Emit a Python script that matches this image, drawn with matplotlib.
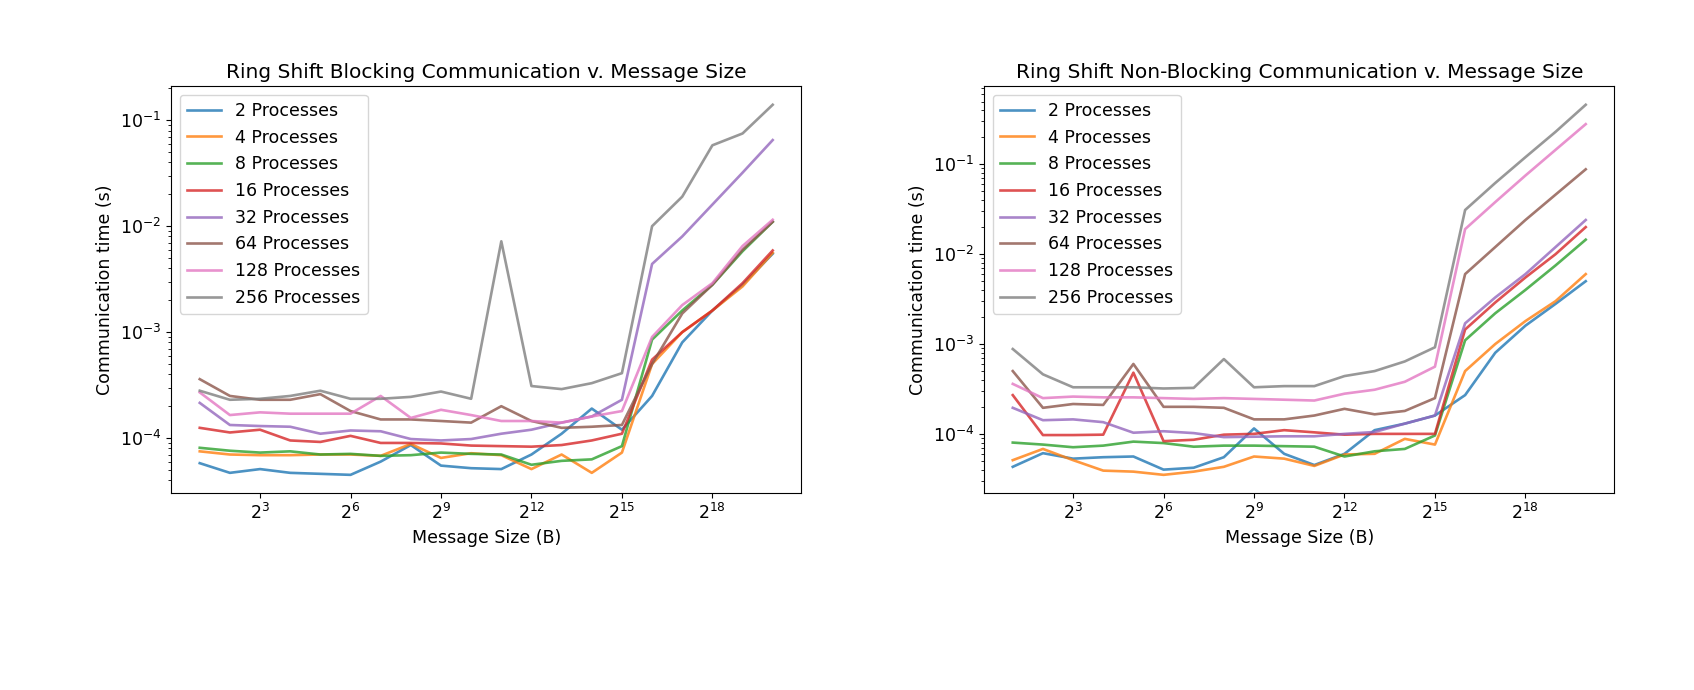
import numpy as np
from matplotlib import pyplot as plt

sizes = [2**k for k in range(1, 21)]
labels = ['2 Processes', '4 Processes', '8 Processes', '16 Processes',
          '32 Processes', '64 Processes', '128 Processes', '256 Processes']

blocking = [
    [5.8e-5,4.7e-5,5.1e-5,4.7e-5,4.6e-5,4.5e-5,6e-5,8.6e-5,5.5e-5,5.2e-5,5.1e-5,7e-5,1.1e-4,1.9e-4,1.2e-4,2.5e-4,8e-4,1.6e-3,2.8e-3,5.5e-3],
    [7.5e-5,7e-5,6.9e-5,6.9e-5,7e-5,7e-5,6.8e-5,8.8e-5,6.5e-5,7.2e-5,6.9e-5,5.1e-5,7e-5,4.7e-5,7.3e-5,5e-4,1e-3,1.6e-3,2.7e-3,5.6e-3],
    [8.1e-5,7.6e-5,7.3e-5,7.5e-5,7e-5,7.1e-5,6.8e-5,6.9e-5,7.3e-5,7.1e-5,7e-5,5.6e-5,6.1e-5,6.3e-5,8.4e-5,8.5e-4,1.6e-3,2.8e-3,5.8e-3,1.1e-2],
    [1.25e-4,1.13e-4,1.2e-4,9.5e-5,9.2e-5,1.05e-4,9e-5,9e-5,8.9e-5,8.5e-5,8.4e-5,8.3e-5,8.6e-5,9.5e-5,1.1e-4,5.5e-4,1e-3,1.6e-3,2.9e-3,5.9e-3],
    [2.15e-4,1.33e-4,1.3e-4,1.28e-4,1.1e-4,1.18e-4,1.16e-4,9.8e-5,9.5e-5,9.8e-5,1.1e-4,1.2e-4,1.4e-4,1.6e-4,2.3e-4,4.4e-3,8e-3,1.6e-2,3.2e-2,6.5e-2],
    [3.6e-4,2.5e-4,2.3e-4,2.3e-4,2.6e-4,1.8e-4,1.5e-4,1.5e-4,1.45e-4,1.4e-4,2e-4,1.45e-4,1.25e-4,1.28e-4,1.33e-4,5e-4,1.5e-3,2.8e-3,6e-3,1.1e-2],
    [2.7e-4,1.65e-4,1.75e-4,1.7e-4,1.7e-4,1.7e-4,2.5e-4,1.55e-4,1.85e-4,1.65e-4,1.45e-4,1.45e-4,1.4e-4,1.6e-4,1.8e-4,9e-4,1.8e-3,2.9e-3,6.5e-3,1.15e-2],
    [2.8e-4,2.3e-4,2.35e-4,2.5e-4,2.8e-4,2.35e-4,2.35e-4,2.45e-4,2.75e-4,2.35e-4,7.2e-3,3.1e-4,2.9e-4,3.3e-4,4.1e-4,1e-2,1.9e-2,5.8e-2,7.5e-2,1.4e-1],
]

nonblocking = [
    [4.3e-5,6.1e-5,5.3e-5,5.5e-5,5.6e-5,4e-5,4.2e-5,5.5e-5,1.15e-4,6e-5,4.5e-5,6e-5,1.1e-4,1.3e-4,1.6e-4,2.7e-4,8e-4,1.6e-3,2.8e-3,5e-3],
    [5.1e-5,6.8e-5,5.1e-5,3.9e-5,3.8e-5,3.5e-5,3.8e-5,4.3e-5,5.6e-5,5.3e-5,4.4e-5,5.9e-5,6e-5,8.8e-5,7.6e-5,5e-4,1e-3,1.8e-3,3e-3,6e-3],
    [8e-5,7.6e-5,7.1e-5,7.4e-5,8.2e-5,7.9e-5,7.2e-5,7.4e-5,7.4e-5,7.3e-5,7.2e-5,5.6e-5,6.4e-5,6.8e-5,9.6e-5,1.1e-3,2.2e-3,4e-3,7.5e-3,1.45e-2],
    [2.7e-4,9.7e-5,9.7e-5,9.8e-5,4.8e-4,8.3e-5,8.6e-5,9.8e-5,1e-4,1.1e-4,1.04e-4,9.8e-5,1e-4,1e-4,1e-4,1.45e-3,2.9e-3,5.5e-3,1e-2,2e-2],
    [1.95e-4,1.42e-4,1.45e-4,1.35e-4,1.03e-4,1.07e-4,1.02e-4,9.2e-5,9.3e-5,9.4e-5,9.4e-5,1e-4,1.05e-4,1.3e-4,1.6e-4,1.7e-3,3.3e-3,6e-3,1.2e-2,2.4e-2],
    [5e-4,1.95e-4,2.15e-4,2.1e-4,6e-4,2e-4,2e-4,1.95e-4,1.45e-4,1.45e-4,1.6e-4,1.9e-4,1.65e-4,1.8e-4,2.5e-4,6e-3,1.2e-2,2.4e-2,4.6e-2,8.8e-2],
    [3.6e-4,2.5e-4,2.6e-4,2.55e-4,2.55e-4,2.5e-4,2.45e-4,2.5e-4,2.45e-4,2.4e-4,2.35e-4,2.8e-4,3.1e-4,3.8e-4,5.6e-4,1.9e-2,3.8e-2,7.5e-2,1.45e-1,2.8e-1],
    [8.8e-4,4.6e-4,3.3e-4,3.3e-4,3.3e-4,3.2e-4,3.25e-4,6.8e-4,3.3e-4,3.4e-4,3.4e-4,4.4e-4,5e-4,6.4e-4,9.2e-4,3.1e-2,6.2e-2,1.2e-1,2.3e-1,4.6e-1],
]

titles = ['Ring Shift Blocking Communication v. Message Size',
          'Ring Shift Non-Blocking Communication v. Message Size']

plt.rcParams['font.size'] = 12
fig, axes = plt.subplots(1, 2, figsize=(16.94, 6.9), dpi=100)
fig.subplots_adjust(left=0.101, right=0.953, top=0.875, bottom=0.285, wspace=0.29)

for ax, data, title in zip(axes, [blocking, nonblocking], titles):
    for vals, lab in zip(data, labels):
        ax.plot(sizes, vals, label=lab, alpha=0.8, linewidth=1.9)
    ax.set_xscale('log', base=2)
    ax.set_yscale('log')
    ax.set_title(title, fontsize=14.5)
    ax.set_xlabel('Message Size (B)', fontsize=12.5)
    ax.set_ylabel('Communication time (s)', fontsize=12.5)
    ax.tick_params(labelsize=12.5)
    ax.legend(loc='upper left', fontsize=12.5)

plt.savefig('out.png')
